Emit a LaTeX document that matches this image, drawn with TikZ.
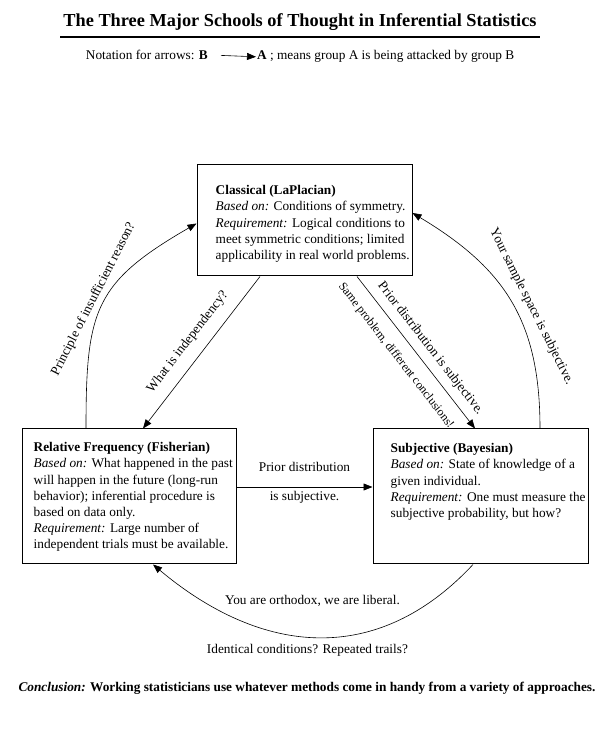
\documentclass[tikz,border=0pt]{standalone}
\usepackage{fontspec}
\setmainfont{Liberation Serif}
\usetikzlibrary{arrows.meta,positioning}

\tikzset{
  school/.style={draw, line width=1pt, inner sep=0pt},
  schooltext/.style={anchor=north west, align=left, inner sep=0pt,
    font=\fontsize{13.3}{16.2}\selectfont},
  attack/.style={line width=0.6pt},
  attacklabel/.style={inner sep=1pt, font=\fontsize{13.3}{16}\selectfont}
}

\begin{document}
\begin{tikzpicture}[x=1pt,y=1pt,>={Triangle[length=9pt,width=7pt]}]
\useasboundingbox (0,0) rectangle (598,730);

\node[font=\bfseries\fontsize{18.3}{20}\selectfont] (title) at (300,708)
  {The Three Major Schools of Thought in Inferential Statistics};
\draw[line width=2pt] (60,693) -- (540,693);

\node[attacklabel, anchor=base east] (notB) at (209,670) {Notation for arrows: \textbf{B}};
\node[attacklabel, anchor=base west] (notA) at (256,670) {\textbf{A} ; means group A is being attacked by group B};
\draw[attack,->] ([xshift=12pt]notB.east) -- (notA.west);

% the three schools
\node[school, minimum width=215pt, minimum height=111pt] (classical) at (304.5,509.5) {};
\node[school, minimum width=214pt, minimum height=135pt] (freq) at (129,233.5) {};
\node[school, minimum width=215pt, minimum height=135pt] (subj) at (480.5,233.5) {};

\node[schooltext] (classicaltext) at ([shift={(19,-20.8)}]classical.north west)
  {\textbf{Classical (LaPlacian)}\\
   \textit{Based on:} Conditions of symmetry.\\
   \textit{Requirement:} Logical conditions to\\
   meet symmetric conditions; limited\\
   applicability in real world problems.};
\node[schooltext] (freqtext) at ([shift={(12,-13.8)}]freq.north west)
  {\textbf{Relative Frequency (Fisherian)}\\
   \textit{Based on:} What happened in the past\\
   will happen in the future (long-run\\
   behavior); inferential procedure is\\
   based on data only.\\
   \textit{Requirement:} Large number of\\
   independent trials must be available.};
\node[schooltext] (subjtext) at ([shift={(18,-14.8)}]subj.north west)
  {\textbf{Subjective (Bayesian)}\\
   \textit{Based on:} State of knowledge of a\\
   given individual.\\
   \textit{Requirement:} One must measure the\\
   subjective probability, but how?};

% attacks
\draw[attack,->] ([xshift=-43pt]freq.north) to[out=90, in=210, looseness=1.3]
  node[attacklabel, midway, sloped, above=3pt] {Principle of insufficient reason?}
  ([yshift=-3pt]classical.west);
\draw[attack,<-] ([xshift=14pt]freq.north) --
  node[attacklabel, midway, sloped, above=10pt] {What is independency?}
  ([xshift=-44.5pt]classical.south);
\draw[attack,<-] ([yshift=7.5pt]classical.east) to[out=-31, in=90, looseness=1.1]
  node[attacklabel, pos=0.56, sloped, above=8pt] {Your sample space is subjective.}
  ([xshift=59.5pt]subj.north);
\draw[attack,->] ([xshift=52.5pt]classical.south) --
  node[attacklabel, pos=0.53, sloped, above=6.5pt] {Prior distribution is subjective.}
  node[attacklabel, pos=0.45, sloped, below=11pt, font=\fontsize{12}{14}\selectfont] {Same problem, different conclusions!}
  ([xshift=-5.5pt]subj.north);
\draw[attack,->] ([yshift=9.5pt]freq.east) --
  node[attacklabel, above=14pt] {Prior distribution}
  node[attacklabel, below=3pt] {is subjective.}
  ([yshift=9.5pt]subj.west);
\draw[attack,->] ([xshift=-7.5pt]subj.south) to[out=227, in=-40, looseness=1.13]
  node[attacklabel, midway, above=29pt, xshift=-5pt] {You are orthodox, we are liberal.}
  node[attacklabel, midway, below=6pt, xshift=-10pt] {Identical conditions? Repeated trails?}
  ([xshift=24pt]freq.south);

\node[font=\bfseries\fontsize{13.3}{16}\selectfont] (conclusion) at (307,42)
  {\textit{Conclusion:} Working statisticians use whatever methods come in handy from a variety of approaches.};

\end{tikzpicture}
\end{document}
